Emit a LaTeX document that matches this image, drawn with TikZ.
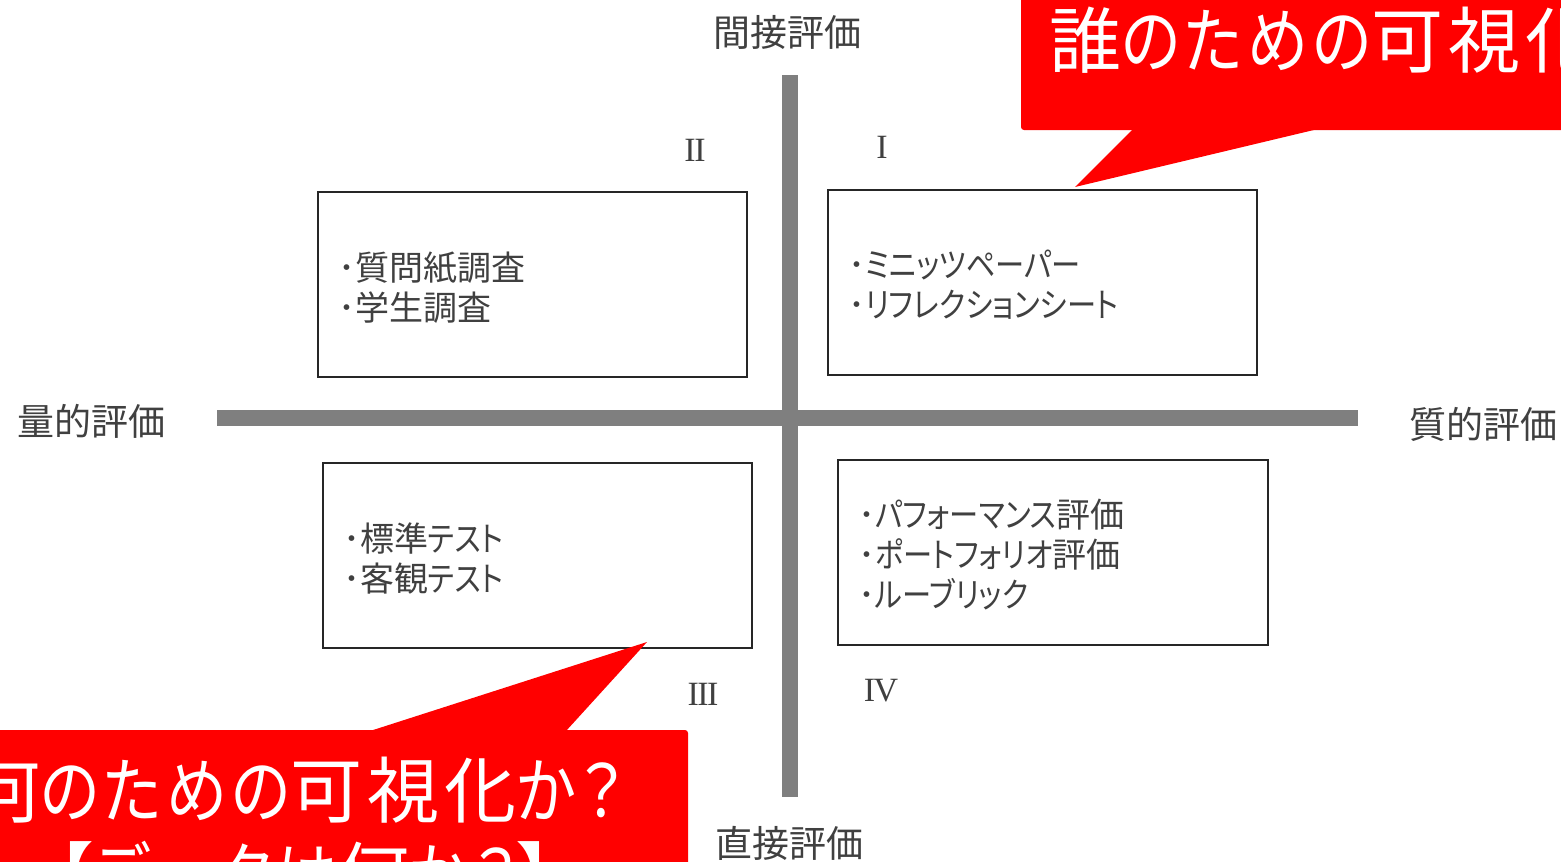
\documentclass[tikz,border=0pt]{standalone}
\usepackage{fontspec}
\newfontfamily\jp[RawFeature=+palt]{Noto Sans CJK JP}
\newfontfamily\jpw{Noto Sans CJK JP}
\newfontfamily\jpc[RawFeature=+palt,LetterSpace=7]{Noto Sans CJK JP}
\newfontfamily\rom{Liberation Serif}
\newcommand\kna[1]{\scalebox{0.86}[1]{#1}}
\newcommand\knb[1]{\scalebox{0.85}[1]{#1}}
\definecolor{axisgray}{HTML}{7F7F7F}
\definecolor{txtgray}{HTML}{404040}
\definecolor{callred}{HTML}{FF0000}
\begin{document}
\begin{tikzpicture}[x=1pt,y=-1pt,
  axis/.style={draw=axisgray,line width=16},
  axlabel/.style={font=\jpw\fontsize{37}{40}\selectfont,text=txtgray,inner sep=0},
  qbox/.style={draw=black!85,line width=2,align=left,inner xsep=22,inner ysep=0,
    minimum height=185,text=txtgray,font=\jp\fontsize{34}{40}\selectfont},
  qtext/.style={align=left,inner sep=0,anchor=west,text=txtgray,font=\jp\fontsize{34}{40}\selectfont},
  roman/.style={font=\rom\fontsize{34}{36}\selectfont,text=txtgray,inner sep=0},
  calltext/.style={font=\jpc\fontsize{72}{85}\selectfont,text=white,inner sep=0}]
\useasboundingbox (0,0) rectangle (1561,862);
\clip (0,0) rectangle (1561,862);
\fill[white] (0,0) rectangle (1561,862);
% axes
\coordinate (vtop) at (790,75);
\coordinate (vbot) at (790,797);
\coordinate (hl) at (217,418);
\coordinate (hr) at (1358,418);
\draw[axis] (hl) -- (hr);
\draw[axis] (vtop) -- (vbot);
% axis labels
\node[axlabel] (lt) at (787,32) {間接評価};
\node[axlabel] (lb) at (789,843) {直接評価};
\node[axlabel] (ll) at (91,421) {量的評価};
\node[axlabel] (lr) at (1483,424) {質的評価};
% quadrant boxes
\node[qbox,minimum width=429] (q2) at (532.5,284.5) {};
\node[qbox,minimum width=429] (q1) at (1042.5,282) {};
\node[qbox,minimum width=429] (q3) at (537.5,555.5) {};
\node[qbox,minimum width=430] (q4) at (1053,552.5) {};
\node[qtext] (t2) at ([xshift=21,yshift=-3]q2.west) {･質問紙調査\\･学生調査};
\node[qtext] (t1) at ([xshift=21,yshift=-3]q1.west) {･\kna{ミニッツペーパー}\\･\kna{リフレクションシート}};
\node[qtext] (t3) at ([xshift=21,yshift=-3]q3.west) {･標準\kna{テスト}\\･客観\kna{テスト}};
\node[qtext] (t4) at ([xshift=21,yshift=-2]q4.west) {･\kna{パフォーマンス}評価\\･\kna{ポートフォリオ}評価\\･\kna{ルーブリック}};
% roman numerals
\node[roman] (r2) at (695,150) {I\kern-1.5pt I};
\node[roman] (r1) at (882,147) {I};
\node[roman] (r3) at (703,694) {I\kern-1.5pt I\kern-1.5pt I};
\node[roman] (r4) at (881,691) {I\kern-1.5pt V};
% top callout
\coordinate (tip1) at (1075,187);
\fill[callred,rounded corners=3] (1021,-20) rectangle (1720,130);
\fill[callred] (1133,129) -- (tip1) -- (1318,129) -- cycle;
\node[calltext,anchor=west] (c1) at (1049,40) {誰\knb{のための}可視化\knb{か？}};
% bottom callout
\coordinate (tip3) at (647,642);
\fill[callred,rounded corners=3] (-100,730) rectangle (688,950);
\fill[callred] (370,731) -- (tip3) -- (566,731) -- cycle;
\node[calltext,anchor=west] (c3) at (-32,790) {何\knb{のための}可視化\knb{か？}};
\node[calltext] (c3b) at (305,875) {【\knb{データは}何\knb{か？}】};
\end{tikzpicture}
\end{document}
